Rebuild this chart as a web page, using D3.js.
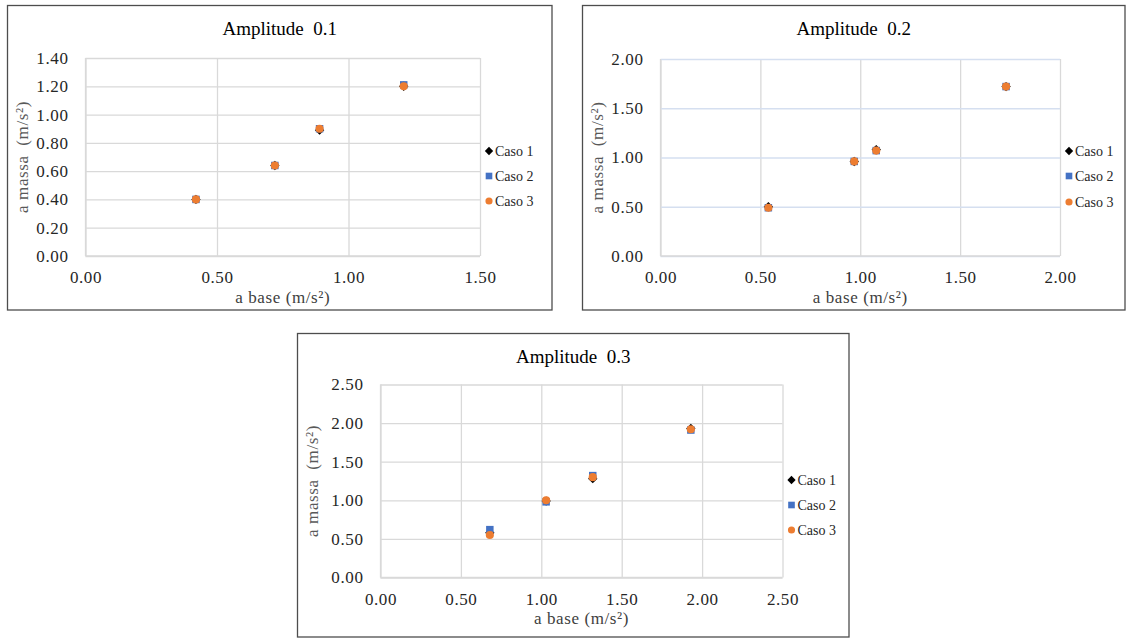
<!DOCTYPE html>
<html>
<head>
<meta charset="utf-8">
<script src="https://cdn.jsdelivr.net/npm/d3@7"></script>
<style>
  html, body { margin: 0; padding: 0; background: #fff; }
  svg { display: block; }
  text { font-family: "Liberation Serif", "Times New Roman", serif; }
</style>
</head>
<body>
<svg id="fig" width="1127" height="639"></svg>
<script>
// Series names and styles shared by all three panels
const seriesNames = ["Caso 1", "Caso 2", "Caso 3"];
const seriesColors = ["#000000", "#4472C4", "#ED7D31"];
const seriesSymbols = [d3.symbolDiamond2, d3.symbolSquare, d3.symbolCircle];

// Amplitude 0.1 — [a base, a massa] per case
const amp01Caso1 = [[0.42, 0.40], [0.72, 0.64], [0.89, 0.89], [1.21, 1.20]];
const amp01Caso2 = [[0.42, 0.40], [0.72, 0.64], [0.89, 0.90], [1.21, 1.21]];
const amp01Caso3 = [[0.42, 0.40], [0.72, 0.64], [0.89, 0.90], [1.21, 1.20]];
const amp01XTicks = [0, 0.5, 1.0, 1.5];
const amp01YTicks = [0, 0.2, 0.4, 0.6, 0.8, 1.0, 1.2, 1.4];

// Amplitude 0.2
const amp02Caso1 = [[0.54, 0.50], [0.97, 0.96], [1.08, 1.08], [1.73, 1.72]];
const amp02Caso2 = [[0.54, 0.49], [0.97, 0.96], [1.08, 1.07], [1.73, 1.72]];
const amp02Caso3 = [[0.54, 0.49], [0.97, 0.96], [1.08, 1.07], [1.73, 1.72]];
const amp02XTicks = [0, 0.5, 1.0, 1.5, 2.0];
const amp02YTicks = [0, 0.5, 1.0, 1.5, 2.0];

// Amplitude 0.3
const amp03Caso1 = [[0.68, 0.58], [1.03, 0.99], [1.32, 1.28], [1.93, 1.93]];
const amp03Caso2 = [[0.68, 0.62], [1.03, 0.98], [1.32, 1.32], [1.93, 1.91]];
const amp03Caso3 = [[0.68, 0.55], [1.03, 1.00], [1.32, 1.30], [1.93, 1.92]];
const amp03XTicks = [0, 0.5, 1.0, 1.5, 2.0, 2.5];
const amp03YTicks = [0, 0.5, 1.0, 1.5, 2.0, 2.5];

const panelTitles = ["Amplitude  0.1", "Amplitude  0.2", "Amplitude  0.3"];
const xTitle = "a base (m/s²)";
const yTitle = "a massa  (m/s²)";

const panels = [
  { title: panelTitles[0], series: [amp01Caso1, amp01Caso2, amp01Caso3],
    xTicks: amp01XTicks, yTicks: amp01YTicks,
    box: [7.5, 5.5, 552, 310], plot: [85.5, 58, 480, 256],
    hGrid: "#d9d9d9", vGrid: "#d9d9d9", legendY: [151, 176, 201] },
  { title: panelTitles[1], series: [amp02Caso1, amp02Caso2, amp02Caso3],
    xTicks: amp02XTicks, yTicks: amp02YTicks,
    box: [582.5, 5.5, 1125, 310], plot: [660.5, 59, 1060, 256],
    hGrid: "#d5dff0", vGrid: "#d9d9d9", legendY: [151, 176, 202] },
  { title: panelTitles[2], series: [amp03Caso1, amp03Caso2, amp03Caso3],
    xTicks: amp03XTicks, yTicks: amp03YTicks,
    box: [297.5, 333.5, 849, 637], plot: [380.5, 384.5, 782.5, 577.5],
    hGrid: "#d9d9d9", vGrid: "#d9d9d9", legendY: [480, 505, 530] }
];

const svg = d3.select("#fig");
const fmt = d3.format(".2f");

panels.forEach(p => {
  const [bx0, by0, bx1, by1] = p.box;
  const [px0, py0, px1, py1] = p.plot;
  const g = svg.append("g");

  // outer frame
  g.append("rect")
    .attr("x", bx0).attr("y", by0)
    .attr("width", bx1 - bx0).attr("height", by1 - by0)
    .attr("fill", "#fff").attr("stroke", "#4d4d4d").attr("stroke-width", 1.3);

  const x = d3.scaleLinear().domain([0, d3.max(p.xTicks)]).range([px0, px1]);
  const y = d3.scaleLinear().domain([0, d3.max(p.yTicks)]).range([py1, py0]);

  // gridlines
  const xAxis = d3.axisBottom(x).tickValues(p.xTicks).tickFormat(fmt)
    .tickSize(-(py1 - py0)).tickPadding(13);
  const yAxis = d3.axisLeft(y).tickValues(p.yTicks).tickFormat(fmt)
    .tickSize(-(px1 - px0)).tickPadding(17);

  const gx = g.append("g").attr("transform", `translate(0,${py1})`).call(xAxis);
  const gy = g.append("g").attr("transform", `translate(${px0},0)`).call(yAxis);
  [gx, gy].forEach(a => a.select(".domain").remove());
  gx.selectAll(".tick line").attr("stroke", p.vGrid).attr("stroke-width", 1.3);
  gy.selectAll(".tick line").attr("stroke", p.hGrid).attr("stroke-width", 1.3);
  // axis baselines drawn above the gridlines
  g.append("line").attr("x1", px0).attr("x2", px0).attr("y1", py0).attr("y2", py1)
    .attr("stroke", "#d9d9d9").attr("stroke-width", 1.3);
  g.append("line").attr("x1", px0).attr("x2", px1).attr("y1", py1).attr("y2", py1)
    .attr("stroke", "#d9d9d9").attr("stroke-width", 1.3);

  [gx, gy].forEach(a => a.selectAll(".tick text")
    .attr("font-family", "Liberation Serif, serif")
    .attr("font-size", 17).attr("letter-spacing", 0.6)
    .attr("fill", "#262626"));
  gx.selectAll(".tick text").attr("dy", "0.32em").attr("y", 22);

  // chart title
  g.append("text")
    .attr("x", (bx0 + bx1) / 2).attr("y", by0 + 23)
    .attr("dy", "0.35em").attr("text-anchor", "middle")
    .attr("xml:space", "preserve")
    .attr("font-size", 19).attr("fill", "#000")
    .text(p.title);

  // axis titles
  g.append("text")
    .attr("x", (px0 + px1) / 2).attr("y", py1 + 41)
    .attr("dy", "0.35em").attr("text-anchor", "middle")
    .attr("font-size", 17).attr("letter-spacing", 0.6).attr("fill", "#404040")
    .text(xTitle);
  g.append("text")
    .attr("transform", `translate(${bx0 + 15},${(py0 + py1) / 2}) rotate(-90)`)
    .attr("dy", "0.35em").attr("text-anchor", "middle")
    .attr("xml:space", "preserve")
    .attr("font-size", 17).attr("letter-spacing", 0.6).attr("fill", "#595959")
    .text(yTitle);

  // data points: Caso 1 below, Caso 3 on top
  p.series.forEach((pts, i) => {
    const sym = d3.symbol().type(seriesSymbols[i]).size(i === 2 ? 52 : 56);
    g.append("g").selectAll("path").data(pts).join("path")
      .attr("transform", d => `translate(${x(d[0])},${y(d[1])})`)
      .attr("d", sym)
      .attr("fill", seriesColors[i]);
  });

  // legend
  const lg = g.append("g");
  seriesNames.forEach((name, i) => {
    const ly = p.legendY[i];
    const mx = px1 + 9;
    lg.append("path")
      .attr("transform", `translate(${mx},${ly})`)
      .attr("d", d3.symbol().type(seriesSymbols[i]).size(i === 2 ? 40 : 44))
      .attr("fill", seriesColors[i]);
    lg.append("text")
      .attr("x", mx + 6).attr("y", ly).attr("dy", "0.35em")
      .attr("font-size", 14).attr("fill", "#262626")
      .text(name);
  });
});
</script>
</body>
</html>
